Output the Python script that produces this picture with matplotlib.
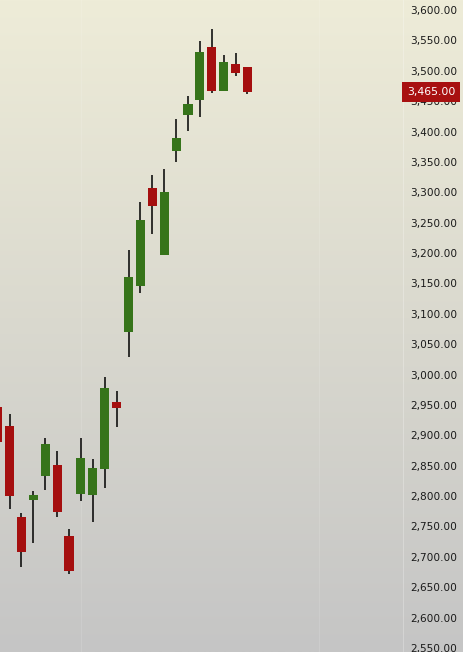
import numpy as np
import matplotlib
matplotlib.use('Agg')
import matplotlib.pyplot as plt
from matplotlib.ticker import FuncFormatter, MultipleLocator

''' Data '''
opens  = [2947, 2915, 2766, 2794, 2833, 2851, 2734, 2803, 2802, 2845, 2955,
          3070, 3146, 3307, 3197, 3368, 3427, 3452, 3539, 3467, 3511, 3506]
highs  = [2950, 2935, 2772, 2808, 2896, 2874, 2746, 2896, 2861, 2996, 2973,
          3205, 3284, 3328, 3338, 3421, 3458, 3549, 3569, 3526, 3529, 3507]
lows   = [2885, 2779, 2683, 2723, 2810, 2766, 2672, 2792, 2757, 2813, 2914,
          3029, 3134, 3231, 3196, 3350, 3401, 3424, 3463, 3466, 3491, 3462]
closes = [2889, 2800, 2708, 2802, 2886, 2774, 2677, 2863, 2846, 2978, 2945,
          3161, 3254, 3277, 3300, 3389, 3445, 3531, 3467, 3514, 3496, 3465]
last_price = 3465.00

up_col = '#36741a'
down_col = '#a50f0f'

fig = plt.figure(figsize=(4.63, 6.52), dpi=100)

# background gradient
bg = fig.add_axes([0, 0, 1, 1], zorder=0)
top = np.array([238, 236, 216]) / 255
bot = np.array([197, 197, 197]) / 255
t = np.linspace(0, 1, 256)[:, None]
grad = top[None, :] * (1 - t) + bot[None, :] * t
bg.imshow(grad[:, None, :], aspect='auto', extent=[0, 1, 0, 1])
bg.axis('off')

ax = fig.add_axes([0, 0, 403 / 463, 1], zorder=1)
ax.patch.set_alpha(0)

x = np.arange(len(opens))
o = np.array(opens)
c = np.array(closes)
cols = [up_col if cc >= oo else down_col for oo, cc in zip(o, c)]

ax.vlines(x, lows, highs, color='black', linewidth=1.1, zorder=2)
ax.bar(x, np.abs(c - o), bottom=np.minimum(o, c), width=0.76,
       color=cols, linewidth=0, zorder=3)

# faint grid
for gx in [7, 27]:
    ax.axvline(gx, color='white', alpha=0.12, linewidth=0.8, zorder=1)

ax.set_xlim(0.2, 34.07)
ax.set_ylim(2543.4, 3616.5)

ax.yaxis.tick_right()
ax.yaxis.set_major_locator(MultipleLocator(50))
ax.yaxis.set_major_formatter(FuncFormatter(lambda v, p: '{:,.2f}'.format(v)))
ax.tick_params(axis='y', length=0, pad=5, labelsize=7.6, labelcolor='#1a1a1a')
ax.set_xticks([])
for s in ['top', 'bottom', 'left']:
    ax.spines[s].set_visible(False)
ax.spines['right'].set_color('white')
ax.spines['right'].set_alpha(0.25)
ax.spines['right'].set_linewidth(0.8)

# last price marker
ax.annotate('{:,.2f}'.format(last_price), xy=(1.0, last_price),
            xycoords=ax.get_yaxis_transform(), xytext=(4, 0),
            textcoords='offset pixels', ha='left', va='center',
            fontsize=7.8, color='white', zorder=5,
            bbox=dict(boxstyle='square,pad=0.45', fc='#a81010', ec='none'),
            annotation_clip=False)

fig.savefig('out.png', dpi=100)
